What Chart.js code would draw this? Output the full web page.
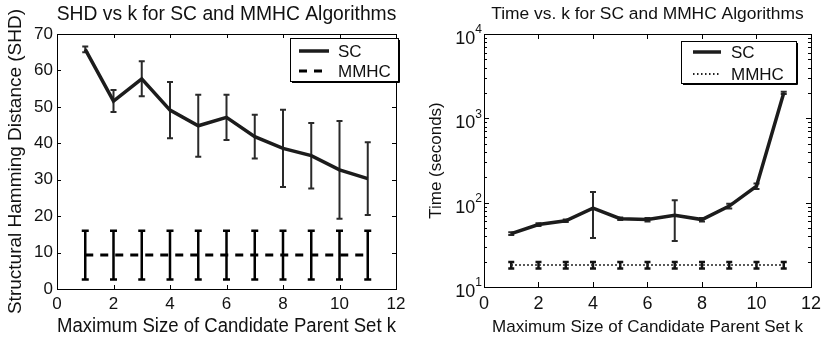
<!DOCTYPE html>
<html>
<head>
<meta charset="utf-8">
<script src="https://cdn.jsdelivr.net/npm/chart.js@4.4.1/dist/chart.umd.min.js"></script>
<style>
  body { margin: 0; background: #fff; }
  #wrap { position: relative; width: 827px; height: 340px; }
  canvas { position: absolute; top: 0; }
  #shdChart { left: 0; }
  #timeChart { left: 420px; }
</style>
</head>
<body>
<div id="wrap">
  <canvas id="shdChart" width="420" height="340"></canvas>
  <canvas id="timeChart" width="407" height="340"></canvas>
</div>
<script>
// values
const kValues = [1, 2, 3, 4, 5, 6, 7, 8, 9, 10, 11];

const shdSC = [65.8, 51.6, 57.7, 49.1, 44.8, 47.1, 41.8, 38.6, 36.6, 32.7, 30.3];
const shdSCErr = [0.8, 3.0, 4.8, 7.7, 8.5, 6.2, 6.0, 10.6, 9.0, 13.4, 10.0];
const shdMMHC = [9.3, 9.3, 9.3, 9.3, 9.3, 9.3, 9.3, 9.3, 9.3, 9.3, 9.3];
const shdMMHCErr = [6.7, 6.7, 6.7, 6.7, 6.7, 6.7, 6.7, 6.7, 6.7, 6.7, 6.7];

const timeSC = [43, 55, 61, 86, 64.5, 63, 71, 63, 91, 157, 2000];
const timeSCErr = [1.5, 2, 2, 48, 2, 3, 36, 3, 6, 12, 60];
const timeMMHC = [18.2, 18.2, 18.2, 18.2, 18.2, 18.2, 18.2, 18.2, 18.2, 18.2, 18.2];
const timeMMHCErr = [1.6, 1.6, 1.6, 1.6, 1.6, 1.6, 1.6, 1.6, 1.6, 1.6, 1.6];

const xTicks = [0, 2, 4, 6, 8, 10, 12];
const shdTicks = [0, 10, 20, 30, 40, 50, 60, 70];
const timeDecades = [10, 100, 1000, 10000];

const FONT = "'Liberation Sans', Arial, Helvetica, sans-serif";
const INK = '#1c1c1c';

Chart.defaults.font.family = FONT;
Chart.defaults.color = '#111';

function toPoints(ys) {
  return kValues.map((k, i) => ({ x: k, y: ys[i] }));
}

function fixedTicks(values) {
  return (scale) => { scale.ticks = values.map((v) => ({ value: v })); };
}

// title centred over the plot area (matlab style), not over the canvas
const plotTitlePlugin = {
  id: 'plotTitle',
  afterDraw(chart, args, opts) {
    const { ctx, chartArea: a } = chart;
    ctx.save();
    ctx.font = `${opts.size}px ${FONT}`;
    ctx.fillStyle = '#111';
    ctx.textAlign = 'center';
    ctx.textBaseline = 'middle';
    ctx.fillText(opts.text, (a.left + a.right) / 2, opts.y);
    ctx.restore();
  },
};

// vertical error bars with caps, drawn under the lines
const errorBarPlugin = {
  id: 'errorBars',
  beforeDatasetsDraw(chart) {
    const { ctx, scales: { x, y } } = chart;
    ctx.save();
    ctx.setLineDash([]);
    chart.data.datasets.forEach((ds) => {
      if (!ds.errors) return;
      ctx.strokeStyle = ds.errorColor || INK;
      ctx.lineWidth = ds.errorWidth || 2;
      const cap = ds.capHalf || 3;
      ds.data.forEach((p, i) => {
        const e = ds.errors[i];
        const px = x.getPixelForValue(p.x);
        const top = y.getPixelForValue(p.y + e);
        const bot = y.getPixelForValue(p.y - e);
        ctx.beginPath();
        ctx.moveTo(px, top);
        ctx.lineTo(px, bot);
        ctx.moveTo(px - cap, top);
        ctx.lineTo(px + cap, top);
        ctx.moveTo(px - cap, bot);
        ctx.lineTo(px + cap, bot);
        ctx.stroke();
      });
    });
    ctx.restore();
  },
};

// box with inward ticks on all four sides
const framePlugin = {
  id: 'frame',
  afterDraw(chart, args, opts) {
    const { ctx, chartArea: a, scales: { x, y } } = chart;
    ctx.save();
    ctx.setLineDash([]);
    ctx.strokeStyle = '#000';
    ctx.lineWidth = 1;
    ctx.strokeRect(a.left + 0.5, a.top + 0.5, a.right - a.left, a.bottom - a.top);
    ctx.beginPath();
    xTicks.forEach((v) => {
      const px = Math.round(x.getPixelForValue(v)) + 0.5;
      ctx.moveTo(px, a.bottom);
      ctx.lineTo(px, a.bottom - opts.len);
      ctx.moveTo(px, a.top);
      ctx.lineTo(px, a.top + opts.len);
    });
    const yTick = (v, len) => {
      const py = Math.round(y.getPixelForValue(v)) + 0.5;
      ctx.moveTo(a.left, py);
      ctx.lineTo(a.left + len, py);
      ctx.moveTo(a.right, py);
      ctx.lineTo(a.right - len, py);
    };
    opts.yTicks.forEach((v) => yTick(v, opts.len));
    (opts.minorTicks || []).forEach((v) => yTick(v, opts.minorLen));
    ctx.stroke();

    if (opts.powerLabels) {
      ctx.fillStyle = '#111';
      ctx.textBaseline = 'middle';
      ctx.textAlign = 'right';
      opts.yTicks.forEach((v) => {
        const py = y.getPixelForValue(v);
        const exp = String(Math.round(Math.log10(v)));
        ctx.font = `12px ${FONT}`;
        const ew = ctx.measureText(exp).width;
        ctx.fillText(exp, a.left - 2, py - 4);
        ctx.font = `18px ${FONT}`;
        ctx.fillText('10', a.left - 2 - ew, py + 5);
      });
    }
    ctx.restore();
  },
};

// boxed legend inside the plot, top right
const boxLegendPlugin = {
  id: 'boxLegend',
  afterDraw(chart, args, opts) {
    const { ctx, chartArea: a } = chart;
    const left = Math.round(a.right + opts.right - opts.width);
    const top = Math.round(a.top + opts.top);
    const w = opts.width;
    const h = opts.height;
    ctx.save();
    ctx.fillStyle = '#fff';
    ctx.fillRect(left, top, w, h);
    ctx.setLineDash([]);
    ctx.strokeStyle = '#000';
    ctx.lineWidth = 1;
    ctx.strokeRect(left + 0.5, top + 0.5, w, h);
    ctx.beginPath();
    ctx.moveTo(left + w + 1.5, top + 2);
    ctx.lineTo(left + w + 1.5, top + h + 1.5);
    ctx.lineTo(left + 2, top + h + 1.5);
    ctx.stroke();
    ctx.font = `${opts.fontSize}px ${FONT}`;
    ctx.textBaseline = 'middle';
    ctx.textAlign = 'left';
    chart.data.datasets.forEach((ds, i) => {
      const ry = top + opts.rows[i];
      ctx.strokeStyle = ds.borderColor;
      ctx.lineWidth = ds.borderWidth;
      ctx.setLineDash(ds.borderDash || []);
      ctx.beginPath();
      ctx.moveTo(left + opts.lineStart, ry);
      ctx.lineTo(left + opts.lineEnd, ry);
      ctx.stroke();
      ctx.setLineDash([]);
      ctx.fillStyle = '#111';
      ctx.fillText(ds.label, left + opts.textStart, ry + 1);
    });
    ctx.restore();
  },
};

const shdChart = new Chart(document.getElementById('shdChart'), {
  type: 'line',
  data: {
    datasets: [
      {
        label: 'SC',
        data: toPoints(shdSC),
        errors: shdSCErr,
        errorColor: '#2a2a2a',
        errorWidth: 2,
        capHalf: 3,
        borderColor: INK,
        borderWidth: 3.5,
        pointRadius: 0,
        tension: 0,
      },
      {
        label: 'MMHC',
        data: toPoints(shdMMHC),
        errors: shdMMHCErr,
        errorColor: '#000',
        errorWidth: 2.5,
        capHalf: 3.5,
        borderColor: '#000',
        borderWidth: 3,
        borderDash: [8, 7],
        pointRadius: 0,
        tension: 0,
      },
    ],
  },
  options: {
    responsive: false,
    animation: false,
    layout: { padding: { left: 0, right: 24, top: 34, bottom: 0 } },
    plugins: {
      legend: { display: false },
      tooltip: { enabled: false },
      title: { display: false },
      plotTitle: { text: 'SHD vs k for SC and MMHC Algorithms', size: 19.3, y: 15 },
      frame: { len: 4, yTicks: shdTicks },
      boxLegend: {
        right: 2, top: 4, width: 108, height: 43, fontSize: 17,
        rows: [13, 33], lineStart: 9, lineEnd: 39, textStart: 48,
      },
    },
    scales: {
      x: {
        type: 'linear',
        min: 0,
        max: 12,
        afterBuildTicks: fixedTicks(xTicks),
        afterFit: (s) => { s.height = 51; },
        grid: { display: false, drawTicks: false },
        border: { display: false },
        ticks: { font: { size: 17 }, padding: 5, color: '#111' },
        title: {
          display: true,
          text: 'Maximum Size of Candidate Parent Set k',
          font: { size: 19.6 },
          color: '#111',
          padding: { top: 0, bottom: 2 },
        },
      },
      y: {
        type: 'linear',
        min: 0,
        max: 70,
        afterBuildTicks: fixedTicks(shdTicks),
        afterFit: (s) => { s.width = 57; },
        grid: { display: false, drawTicks: false },
        border: { display: false },
        ticks: { font: { size: 17 }, padding: 4, color: '#111' },
        title: {
          display: true,
          text: 'Structural Hamming Distance (SHD)',
          font: { size: 19 },
          color: '#111',
          padding: { top: 4, bottom: 0 },
        },
      },
    },
  },
  plugins: [errorBarPlugin, framePlugin, boxLegendPlugin, plotTitlePlugin],
});

const timeMinor = [];
[10, 100, 1000].forEach((d) => {
  for (let m = 2; m <= 9; m++) timeMinor.push(d * m);
});

const timeChart = new Chart(document.getElementById('timeChart'), {
  type: 'line',
  data: {
    datasets: [
      {
        label: 'SC',
        data: toPoints(timeSC),
        errors: timeSCErr,
        errorColor: '#2a2a2a',
        errorWidth: 2,
        capHalf: 3,
        borderColor: INK,
        borderWidth: 3.5,
        pointRadius: 0,
        tension: 0,
      },
      {
        label: 'MMHC',
        data: toPoints(timeMMHC),
        errors: timeMMHCErr,
        errorColor: '#111',
        errorWidth: 2.5,
        capHalf: 3,
        borderColor: '#222',
        borderWidth: 2,
        borderDash: [1.5, 2.5],
        pointRadius: 0,
        tension: 0,
      },
    ],
  },
  options: {
    responsive: false,
    animation: false,
    layout: { padding: { left: 0, right: 11, top: 34, bottom: 0 } },
    plugins: {
      legend: { display: false },
      tooltip: { enabled: false },
      title: { display: false },
      plotTitle: { text: 'Time vs. k for SC and MMHC Algorithms', size: 17.4, y: 14 },
      frame: { len: 5, minorLen: 3, yTicks: timeDecades, minorTicks: timeMinor, powerLabels: true },
      boxLegend: {
        right: -15, top: 7, width: 115, height: 42, fontSize: 17,
        rows: [11, 33], lineStart: 12, lineEnd: 40, textStart: 50,
      },
    },
    scales: {
      x: {
        type: 'linear',
        min: 0,
        max: 12,
        afterBuildTicks: fixedTicks(xTicks),
        afterFit: (s) => { s.height = 53; },
        grid: { display: false, drawTicks: false },
        border: { display: false },
        ticks: { font: { size: 18 }, padding: 6, color: '#111' },
        title: {
          display: true,
          text: 'Maximum Size of Candidate Parent Set k',
          font: { size: 17 },
          color: '#111',
          padding: { top: 0, bottom: 2 },
        },
      },
      y: {
        type: 'logarithmic',
        min: 10,
        max: 10000,
        afterFit: (s) => { s.width = 64; },
        grid: { display: false, drawTicks: false },
        border: { display: false },
        ticks: { display: false },
        title: {
          display: true,
          text: 'Time (seconds)',
          font: { size: 17 },
          color: '#111',
          padding: { top: 6, bottom: 0 },
        },
      },
    },
  },
  plugins: [errorBarPlugin, framePlugin, boxLegendPlugin, plotTitlePlugin],
});
</script>
</body>
</html>
